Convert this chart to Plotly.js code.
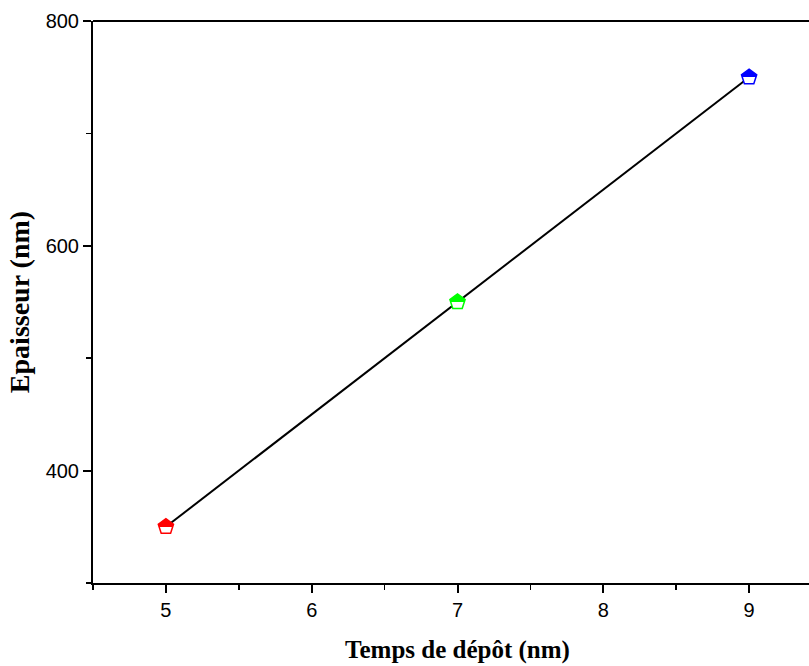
<!DOCTYPE html>
<html><head><meta charset="utf-8">
<script src="https://cdn.plot.ly/plotly-3.0.1.min.js"></script>
<style>html,body{margin:0;padding:0;overflow:hidden;background:#fff}</style>
</head><body><div id="chart"></div>
<script>
const xValues = [5, 7, 9];
const yValues = [350, 550, 750];
const pointColors = ['#ff0000', '#00ff00', '#0000ff'];
const xTitle = 'Temps de dépôt (nm)';
const yTitle = 'Epaisseur (nm)';

const traces = [
  {x: xValues, y: yValues, mode: 'lines', line: {color: '#000', width: 2}, hoverinfo: 'skip', showlegend: false},
  {x: xValues, y: yValues, mode: 'markers', showlegend: false,
   marker: {symbol: 'pentagon', size: 16, color: pointColors,
            gradient: {type: 'vertical', color: '#ffffff'},
            line: {color: pointColors, width: 1.5}}}
];
const axisCommon = {showline: true, linecolor: '#000', linewidth: 2, ticks: 'outside', tickcolor: '#000', tickwidth: 2,
  ticklen: 8, showgrid: false, zeroline: false, tickfont: {family: 'Liberation Sans, Arial', size: 20, color: '#000'}};
const layout = {
  width: 840, height: 666,
  margin: {l: 93, r: 18, t: 21, b: 83},
  paper_bgcolor: '#fff', plot_bgcolor: '#fff',
  xaxis: Object.assign({}, axisCommon, {range: [4.5, 9.5], dtick: 1, tick0: 5, mirror: false,
    minor: {dtick: 0.5, tick0: 4.5, ticks: 'outside', ticklen: 5, tickcolor: '#000', tickwidth: 1.5},
    title: {text: xTitle, font: {family: 'Liberation Serif, Times New Roman', size: 25, color: '#000', weight: 'bold'}, standoff: 20}}),
  yaxis: Object.assign({}, axisCommon, {range: [300, 800], dtick: 200, tick0: 400,
    minor: {dtick: 100, tick0: 300, ticks: 'outside', ticklen: 5, tickcolor: '#000', tickwidth: 1.5},
    title: {text: yTitle, font: {family: 'Liberation Serif, Times New Roman', size: 28, color: '#000', weight: 'bold'}, standoff: 8}}),
  shapes: [{type: 'line', xref: 'paper', yref: 'paper', x0: 0, x1: 1, y0: 1, y1: 1, line: {color: '#000', width: 2}}]
};
Plotly.newPlot('chart', traces, layout, {displayModeBar: false, staticPlot: true}).then(function (gd) {
  // turn the smooth vertical gradient into a hard half-fill (top solid, bottom white)
  const NS = 'http://www.w3.org/2000/svg';
  gd.querySelectorAll('linearGradient').forEach(function (lg) {
    const stops = Array.from(lg.querySelectorAll('stop'));
    let col = null;
    stops.forEach(function (s) {
      const c = (s.getAttribute('stop-color') || s.style.stopColor || '').toLowerCase().replace(/\s/g, '');
      if (c && c !== '#ffffff' && c !== 'rgb(255,255,255)' && c !== 'white') col = c;
    });
    if (!col) return;
    stops.forEach(function (s) { s.remove(); });
    lg.setAttribute('x1', '0'); lg.setAttribute('x2', '0');
    lg.setAttribute('y1', '0'); lg.setAttribute('y2', '1');
    [[0, col], [0.55, col], [0.55, '#ffffff'], [1, '#ffffff']].forEach(function (p) {
      const st = document.createElementNS(NS, 'stop');
      st.setAttribute('offset', p[0]);
      st.setAttribute('stop-color', p[1]);
      lg.appendChild(st);
    });
  });
});
</script></body></html>
